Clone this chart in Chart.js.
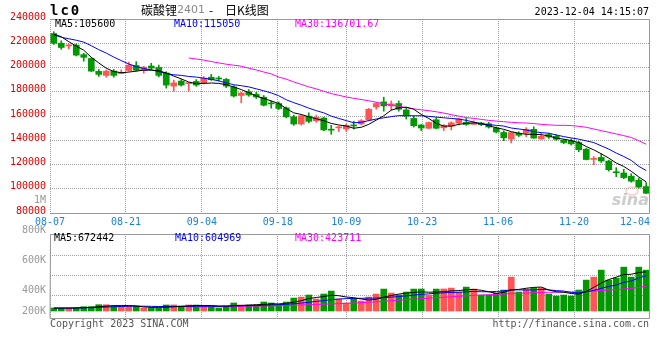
<!DOCTYPE html>
<html>
<head>
<meta charset="utf-8">
<script src="https://cdn.jsdelivr.net/npm/chart.js@4.4.0/dist/chart.umd.min.js"></script>
<style>
html,body{margin:0;padding:0;background:#fff}
#wrap{position:relative;width:660px;height:360px}
#wrap canvas{position:absolute;left:0;top:0}
</style>
</head>
<body>
<div id="wrap">
  <canvas id="kline" width="660" height="360"></canvas>
  <canvas id="vol" width="660" height="360"></canvas>
</div>
<script>
// trading days 2023-08-07 .. 2023-12-04
const dates = ['08-07','08-08','08-09','08-10','08-11','08-14','08-15','08-16','08-17','08-18',
  '08-21','08-22','08-23','08-24','08-25','08-28','08-29','08-30','08-31','09-01',
  '09-04','09-05','09-06','09-07','09-08','09-11','09-12','09-13','09-14','09-15',
  '09-18','09-19','09-20','09-21','09-22','09-25','09-26','09-27','09-28',
  '10-09','10-10','10-11','10-12','10-13','10-16','10-17','10-18','10-19','10-20',
  '10-23','10-24','10-25','10-26','10-27','10-30','10-31','11-01','11-02','11-03',
  '11-06','11-07','11-08','11-09','11-10','11-13','11-14','11-15','11-16','11-17',
  '11-20','11-21','11-22','11-23','11-24','11-27','11-28','11-29','11-30','12-01','12-04'];
const dateTicks = ['08-07','08-21','09-04','09-18','10-09','10-23','11-06','11-20','12-04'];

const opens = [228000,220000,217800,218500,210600,207400,196800,193500,197000,195000,
  197500,201600,197500,201200,200000,195500,184700,188800,186700,188500,
  187200,192000,191000,190200,184000,176900,180000,177900,175500,170500,
  170300,166700,159300,153400,159900,156100,158300,148800,150200,149300,
  152200,153400,156800,167500,171600,168300,170300,165000,158000,152600,
  149900,156900,150300,151500,154200,154800,153100,154200,153600,150100,
  146400,141000,145800,145800,149000,141100,144700,143300,140000,139700,
  138100,132600,124200,125800,122800,113800,113000,110300,107100,101800];
const highs = [229500,222000,219500,219500,211700,208000,198400,198000,198400,198000,
  204400,204800,201000,203500,202000,196500,189600,190000,187500,190000,
  192500,194300,192600,191000,185000,179500,181800,179500,176900,172400,
  171600,167500,160700,160800,162600,160700,159000,152300,151700,153400,
  155700,157000,166200,171100,175500,172400,172400,166700,160000,153000,
  155000,158500,153000,155300,158000,158000,156000,154800,154800,151000,
  147800,146500,147000,150400,151100,145800,145800,144500,140600,141100,
  139200,133400,126600,128800,123600,117400,116000,112400,108800,105000];
const lows = [219000,215000,215500,209500,205200,196700,192600,192000,192000,195000,
  197000,197000,195300,198500,192300,183000,180400,184700,180600,184500,
  186500,189400,188800,183400,175700,170800,176300,174400,168300,166500,
  165400,158500,152300,152600,154400,154800,147900,144900,147100,147400,
  149300,152800,156100,165600,164000,164800,164000,157500,150900,147900,
  149500,149400,148000,148500,152600,152300,153000,152000,150000,146000,
  139600,137800,143000,143000,141500,140800,141500,139900,137200,136000,
  130500,123800,119800,121700,114600,110000,108300,105400,100500,96000];
const closes = [220000,216500,218200,210200,208400,197000,194300,197000,193500,195500,
  202000,197800,200300,199500,193500,185500,187300,185500,187300,185500,
  191200,189900,190500,184700,176500,179000,177300,175700,168900,170000,
  166200,159300,153400,160200,155600,158900,148500,148300,150600,152300,
  151800,156100,165600,170300,168300,170000,165600,160000,152000,150100,
  154600,149900,152000,154400,157500,153100,154200,152800,150900,146800,
  142000,146300,144100,149000,141800,143300,142700,140800,138100,137000,
  132200,124100,124600,122900,115700,113200,109200,106200,101400,96300];

const ma5 = [227400,225400,221300,217600,214300,208400,203800,199400,196700,195700,
  196200,197000,197800,197800,197400,195400,192900,190600,188000,186700,
  186900,187200,186900,185800,183900,181800,179300,176500,174400,172400,
  170300,166200,162600,161300,159300,157700,156100,153900,152600,151700,
  149900,150700,153100,156600,160200,164800,166700,167300,165600,161300,
  158000,153900,151700,151700,153100,153900,154400,153900,152000,150300,
  149000,147100,145800,144900,144900,144600,143600,141700,140900,139700,
  138100,134800,132100,128800,125300,121200,118400,114400,109800,105600];
const ma10 = [227000,224900,223700,222500,220900,218000,214700,211900,208600,205700,
  202900,200800,199200,198000,196700,195100,194000,193500,192600,192100,
  191200,190200,189000,187300,185800,185000,184000,182400,180800,179000,
  176700,173400,171000,168900,166500,164400,162600,159900,158000,156200,
  154400,154800,156200,157500,158500,159500,160300,160200,160200,160200,
  159700,159100,158500,158000,157500,156400,155000,153400,152800,152300,
  151700,150100,149300,148500,147100,146300,145800,144400,143000,141900,
  140900,139500,138100,135400,132700,129400,126600,123400,118500,115050];
const ma30 = [null,null,null,null,null,null,null,null,null,null,
  null,null,null,null,null,null,null,null,207900,207000,
  206100,204900,203800,202700,201900,201100,199400,198000,196300,194700,
  192100,190400,188100,186100,184000,182400,180400,178500,177100,175700,
  174600,173600,172600,171400,170100,168900,168100,166900,165900,165100,
  164400,163500,162400,161100,159900,158700,158000,157200,156400,155800,
  155300,154800,154400,154200,153800,153100,152700,152300,152300,152100,
  151500,150700,149300,147900,146600,145200,143800,142300,139700,136700];

const volumes = [51000,50000,52000,51000,74000,75000,108000,107000,86000,85000,
  80000,81000,51000,52000,50000,103000,104000,86000,103000,102000,
  86000,87000,51000,86000,137000,103000,104000,102000,154000,137000,
  103000,154000,222000,239000,274000,205000,291000,342000,205000,137000,
  205000,171000,239000,291000,376000,308000,274000,325000,376000,377000,
  274000,376000,378000,393000,325000,410000,376000,274000,273000,308000,
  359000,581000,325000,376000,393000,394000,291000,257000,274000,256000,
  359000,530000,581000,701000,530000,564000,752000,581000,752000,701000];
const volMa5 = [50000,50000,50000,52000,56000,62000,74000,84000,92000,92000,
  94000,86000,70000,62000,62000,66000,72000,78000,88000,94000,
  94000,92000,86000,84000,90000,94000,100000,108000,112000,122000,
  122000,130000,152000,176000,212000,232000,248000,270000,262000,240000,
  228000,206000,188000,200000,240000,265000,290000,305000,318000,330000,
  322000,325000,330000,345000,350000,365000,370000,355000,330000,302000,
  320000,360000,370000,390000,405000,410000,360000,330000,322000,300000,
  290000,335000,405000,480000,540000,580000,625000,630000,660000,672442];
const volMa10 = [50000,50000,51000,52000,54000,57000,62000,68000,73000,78000,
  82000,84000,82000,80000,77000,78000,78000,78000,80000,82000,
  82000,82000,80000,82000,88000,90000,92000,94000,98000,105000,
  110000,115000,124000,136000,150000,165000,178000,195000,205000,212000,
  215000,218000,220000,222000,228000,238000,248000,260000,272000,285000,
  295000,305000,312000,318000,320000,330000,335000,330000,330000,335000,
  345000,365000,362000,360000,362000,370000,362000,350000,342000,318000,
  312000,330000,352000,390000,420000,445000,490000,515000,565000,604969];
const volMa30 = [null,null,null,null,null,null,null,null,null,null,
  null,null,null,null,null,null,null,null,70000,71000,
  72000,73000,74000,76000,78000,80000,82000,84000,86000,89000,
  92000,96000,100000,104000,108000,112000,116000,121000,126000,131000,
  137000,143000,150000,158000,167000,176000,185000,194000,203000,212000,
  220000,228000,236000,244000,252000,260000,267000,273000,279000,285000,
  290000,298000,303000,308000,313000,318000,320000,322000,324000,326000,
  330000,336000,343000,352000,358000,366000,378000,388000,406000,423711];

const volGrid = [270000, 610000, 950000];
const volAxisLabels = ['1M','800K','600K','400K','200K'];

const UP = '#ff5555', DOWN = '#009900';
const GRID = '#a0a0a0', FRAME = '#999999';
const MONO = '"DejaVu Sans Mono", monospace';

const candleColor = c => closes[c.dataIndex] >= opens[c.dataIndex] ? UP : DOWN;
const gridIdx = dateTicks.map(d => dates.indexOf(d));

// sina spaces its date grid slightly wider than the candles, so it gets its own axis
function dateAxis() {
  return {
    type: 'linear', axis: 'x', position: 'bottom', min: 0, max: dates.length - 1,
    offset: false,
    afterBuildTicks: s => { s.ticks = gridIdx.slice(0, -1).map(v => ({value: v})); },
    ticks: {display: false},
    grid: {color: GRID, drawTicks: false, offset: false},
    border: {display: false, dash: [1, 1]},
    afterFit: s => { s.height = 0; }
  };
}

function maLine(label, data, color) {
  return {type: 'line', label, data, borderColor: color, borderWidth: 1,
    pointRadius: 0, tension: 0, xAxisID: 'x', yAxisID: 'y', order: 0};
}

function frame(ctx, a, leftSolid) {
  ctx.strokeStyle = FRAME;
  ctx.lineWidth = 1;
  ctx.beginPath();
  ctx.moveTo(a.left, a.top + 0.5);
  ctx.lineTo(a.right - 0.5, a.top + 0.5);
  ctx.lineTo(a.right - 0.5, a.bottom + 0.5);
  ctx.lineTo(a.left, a.bottom + 0.5);
  if (leftSolid) ctx.lineTo(a.left + 0.5, a.top + 0.5);
  ctx.stroke();
}

function txt(ctx, s, x, y, color, font, align) {
  ctx.fillStyle = color;
  ctx.font = font;
  ctx.textAlign = align || 'left';
  ctx.textBaseline = 'middle';
  ctx.fillText(s, x, y);
}

const kDecor = {
  id: 'kDecor',
  beforeDatasetsDraw(chart) {
    const {ctx, chartArea: a} = chart;
    ctx.save();
    ctx.globalAlpha = 0.5;
    ctx.strokeStyle = '#f0a0a0';
    ctx.lineWidth = 1.5;
    ctx.beginPath();
    ctx.ellipse(a.right - 18, a.bottom - 22, 6, 4, 0, 0, Math.PI * 2);
    ctx.stroke();
    txt(ctx, 'sina', a.right - 1, a.bottom - 12, '#999', 'italic bold 16px "DejaVu Sans"', 'right');
    ctx.restore();
  },
  afterDraw(chart) {
    const {ctx, chartArea: a, scales} = chart;
    ctx.save();
    frame(ctx, a, false);

    // date labels under the price panel
    const xd = scales.xd;
    ctx.font = '10px ' + MONO;
    gridIdx.forEach((idx, k) => {
      const s = dateTicks[k];
      const w = ctx.measureText(s).width;
      let x = xd.getPixelForValue(idx);
      if (x + w / 2 > a.right) x = a.right - w / 2;
      txt(ctx, s, x, a.bottom + 9, '#1e80d8', '10px ' + MONO, 'center');
    });

    // header
    ctx.letterSpacing = '2px';
    txt(ctx, 'lc0', 50, 11, '#000', 'bold 14px ' + MONO);
    ctx.letterSpacing = '0px';
    const cjk = '12px "Noto Sans CJK SC"';
    txt(ctx, '碳酸锂', 141, 10, '#000', cjk);
    txt(ctx, '2401', 177, 10, '#888', '11px "DejaVu Sans"');
    txt(ctx, '-', 211, 10, '#000', cjk, 'center');
    txt(ctx, '日K线图', 225, 10, '#000', cjk);
    txt(ctx, '2023-12-04 14:15:07', 649, 12, '#000', '10px ' + MONO, 'right');

    // MA values
    txt(ctx, 'MA5:105600', 55, 24, '#000', '10px ' + MONO);
    txt(ctx, 'MA10:115050', 174, 24, '#0000ff', '10px ' + MONO);
    txt(ctx, 'MA30:136701.67', 295, 24, '#ff00ff', '10px ' + MONO);

    // footer
    txt(ctx, 'Copyright 2023 SINA.COM', 50, 324, '#555', '10px ' + MONO);
    txt(ctx, 'http://finance.sina.com.cn', 649, 324, '#555', '10px ' + MONO, 'right');
    ctx.restore();
  }
};

const volDecor = {
  id: 'volDecor',
  afterDraw(chart) {
    const {ctx, chartArea: a} = chart;
    ctx.save();
    frame(ctx, a, true);
    txt(ctx, 'MA5:672442', 54, 238.5, '#000', '10px ' + MONO);
    txt(ctx, 'MA10:604969', 175, 238.5, '#0000ff', '10px ' + MONO);
    txt(ctx, 'MA30:423711', 295, 238.5, '#ff00ff', '10px ' + MONO);
    // sina prints these volume labels at its own offsets, not on the grid
    const labelY = [200, 230.5, 260.5, 290.5, 311];
    volAxisLabels.forEach((s, i) => txt(ctx, s, 46, labelY[i], '#999', '10px ' + MONO, 'right'));
    ctx.restore();
  }
};

const common = {
  responsive: false, animation: false, events: [],
  plugins: {legend: {display: false}, tooltip: {enabled: false}}
};

new Chart(document.getElementById('kline'), {
  type: 'bar',
  data: {
    labels: dates,
    datasets: [
      maLine('MA5', ma5, '#000000'),
      maLine('MA10', ma10, '#0000ff'),
      maLine('MA30', ma30, '#ff00ff'),
      {label: 'body', data: opens.map((o, i) => [o, closes[i]]), backgroundColor: candleColor,
        barThickness: 6, minBarLength: 1, grouped: false, xAxisID: 'x', yAxisID: 'y', order: 1},
      {label: 'wick', data: lows.map((l, i) => [l, highs[i]]), backgroundColor: candleColor,
        barThickness: 1, grouped: false, xAxisID: 'x', yAxisID: 'y', order: 2}
    ]
  },
  options: Object.assign({}, common, {
    layout: {padding: {left: 0, right: 10, top: 19, bottom: 147}},
    scales: {
      x: {type: 'category', display: false, offset: true},
      xd: dateAxis(),
      y: {
        min: 80000, max: 240000,
        ticks: {stepSize: 20000, color: '#e00000', padding: 4, labelOffset: -2,
          font: {family: MONO, size: 10}, callback: v => String(v)},
        grid: {color: GRID, drawTicks: false},
        border: {display: false, dash: [1, 1]},
        afterFit: s => { s.width = 50; }
      }
    }
  }),
  plugins: [kDecor]
});

new Chart(document.getElementById('vol'), {
  type: 'bar',
  data: {
    labels: dates,
    datasets: [
      maLine('MA5', volMa5, '#000000'),
      maLine('MA10', volMa10, '#0000ff'),
      maLine('MA30', volMa30, '#ff00ff'),
      {label: 'vol', data: volumes, backgroundColor: candleColor, barThickness: 6,
        grouped: false, xAxisID: 'x', yAxisID: 'y', order: 1}
    ]
  },
  options: Object.assign({}, common, {
    layout: {padding: {left: 0, right: 10, top: 234, bottom: 42}},
    scales: {
      x: {type: 'category', display: false, offset: true},
      xd: dateAxis(),
      y: {
        min: -120000, max: 1320000,
        afterBuildTicks: s => { s.ticks = volGrid.map(v => ({value: v})); },
        ticks: {display: false},
        grid: {color: GRID, drawTicks: false},
        border: {display: false, dash: [1, 1]},
        afterFit: s => { s.width = 50; }
      }
    }
  }),
  plugins: [volDecor]
});
</script>
</body>
</html>
